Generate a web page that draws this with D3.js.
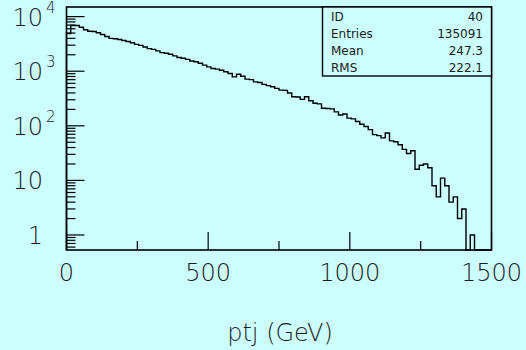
<!DOCTYPE html>
<html>
<head>
<meta charset="utf-8">
<script src="https://cdn.jsdelivr.net/npm/d3@7"></script>
<style>
  html, body { margin: 0; padding: 0; background: #ccffff; }
  svg { display: block; }
  text { font-family: "DejaVu Sans", sans-serif; fill: #1a1a1a; }
  .big { font-weight: 200; }
</style>
</head>
<body>
<div id="content"></div>
<script>
// histogram: 100 bins of 15 GeV from 0 to 1500
var binWidth = 15;
var counts = [
  4910, 6860, 6860, 6390, 5730, 5410, 5350, 5060, 4710, 4330,
  4000, 3930, 3820, 3660, 3500, 3330, 3100, 2970, 2770, 2590,
  2510, 2360, 2190, 2130, 2040, 1910, 1780, 1730, 1650, 1540,
  1490, 1400, 1290, 1200, 1120, 1090, 1040, 980, 908, 788,
  881, 811, 716, 700, 639, 620, 573, 545, 519, 484,
  451, 445, 398, 341, 338, 305, 341, 288, 259, 252,
  210, 208, 204, 180, 158, 165, 138, 134, 120, 107,
  97, 85, 69, 66, 60, 74, 53, 51, 45, 37,
  31, 35, 16, 19, 20, 17, 8, 5, 11, 8,
  4, 5, 2, 3, 0, 1, 0, 0, 0, 0
];

var xTicks = [0, 500, 1000, 1500];
var xMinorTicks = [250, 750, 1250];
var yDecades = [1, 10, 100, 1000, 10000];
var yDecadeBase = ["1", "10", "10", "10", "10"];
var yDecadeExp = ["", "", "2", "3", "4"];

var statNames = ["ID", "Entries", "Mean", "RMS"];
var statValues = ["40", "135091", "247.3", "222.1"];

var xTitle = "ptj (GeV)";

var W = 526, H = 350;
var fLeft = 66.5, fRight = 491.5, fTop = 7, fBottom = 250;

var svg = d3.select("#content").append("svg")
    .attr("width", W)
    .attr("height", H);

svg.append("rect")
    .attr("width", W).attr("height", H)
    .attr("fill", "#ccffff");

var x = d3.scaleLinear().domain([0, 1500]).range([fLeft, fRight]);
var y = d3.scaleLog().domain([0.531, 15000]).range([fBottom, fTop]);

function yv(v) { return v > 0 ? y(v) : fBottom; }

//Histogram outline
var pts = [[x(0), fBottom]];
counts.forEach(function(c, i) {
  pts.push([x(i * binWidth), yv(c)]);
  pts.push([x((i + 1) * binWidth), yv(c)]);
});
pts.push([x(counts.length * binWidth), fBottom]);

svg.append("path")
    .attr("d", d3.line()(pts))
    .attr("fill", "none")
    .attr("stroke", "#000")
    .attr("stroke-width", 1.4);

//X ticks (inside frame, pointing up)
var g = svg.append("g");
xTicks.forEach(function(t) {
  g.append("line")
      .attr("x1", x(t)).attr("x2", x(t))
      .attr("y1", fBottom).attr("y2", fBottom - 18)
      .attr("stroke", "#000").attr("stroke-width", 1.2);
  g.append("text")
      .attr("class", "big")
      .attr("x", x(t)).attr("y", 281)
      .attr("text-anchor", "middle")
      .attr("font-size", 24)
      .text(t);
});
xMinorTicks.forEach(function(t) {
  g.append("line")
      .attr("x1", x(t)).attr("x2", x(t))
      .attr("y1", fBottom).attr("y2", fBottom - 9)
      .attr("stroke", "#000").attr("stroke-width", 1.2);
});

//Y ticks
var yMinor = [];
[0.1, 1, 10, 100, 1000].forEach(function(d) {
  for (var k = 2; k <= 9; k++) {
    var v = d * k;
    if (v >= y.domain()[0] && v <= y.domain()[1]) yMinor.push(v);
  }
});
yMinor.forEach(function(v) {
  g.append("line")
      .attr("x1", fLeft).attr("x2", fLeft + 9)
      .attr("y1", y(v)).attr("y2", y(v))
      .attr("stroke", "#000").attr("stroke-width", 1.2);
});
yDecades.forEach(function(v, i) {
  g.append("line")
      .attr("x1", fLeft).attr("x2", fLeft + 18)
      .attr("y1", y(v)).attr("y2", y(v))
      .attr("stroke", "#000").attr("stroke-width", 1.2);
  g.append("text")
      .attr("class", "big")
      .attr("x", 43).attr("y", y(v) + 9)
      .attr("text-anchor", "end")
      .attr("font-size", 24)
      .text(yDecadeBase[i]);
  if (yDecadeExp[i]) {
    g.append("text")
        .attr("class", "big")
        .attr("x", 46).attr("y", Math.max(y(v) - 4, 13))
        .attr("font-size", 15)
        .text(yDecadeExp[i]);
  }
});

//Frame
svg.append("rect")
    .attr("x", fLeft).attr("y", fTop)
    .attr("width", fRight - fLeft).attr("height", fBottom - fTop)
    .attr("fill", "none")
    .attr("stroke", "#000")
    .attr("stroke-width", 1.6);

//Stats box
var sb = svg.append("g");
sb.append("rect")
    .attr("x", 322.5).attr("y", fTop)
    .attr("width", fRight - 322.5).attr("height", 76 - fTop)
    .attr("fill", "#ccffff")
    .attr("stroke", "#000")
    .attr("stroke-width", 1.4);
statNames.forEach(function(n, i) {
  sb.append("text")
      .attr("x", 331).attr("y", 21 + i * 17)
      .attr("font-size", 12)
      .text(n);
  sb.append("text")
      .attr("x", 483).attr("y", 21 + i * 17)
      .attr("text-anchor", "end")
      .attr("font-size", 12)
      .text(statValues[i]);
});

//Axis title
svg.append("text")
    .attr("class", "big")
    .attr("x", 280).attr("y", 341)
    .attr("text-anchor", "middle")
    .attr("font-size", 24)
    .text(xTitle);
</script>
</body>
</html>
